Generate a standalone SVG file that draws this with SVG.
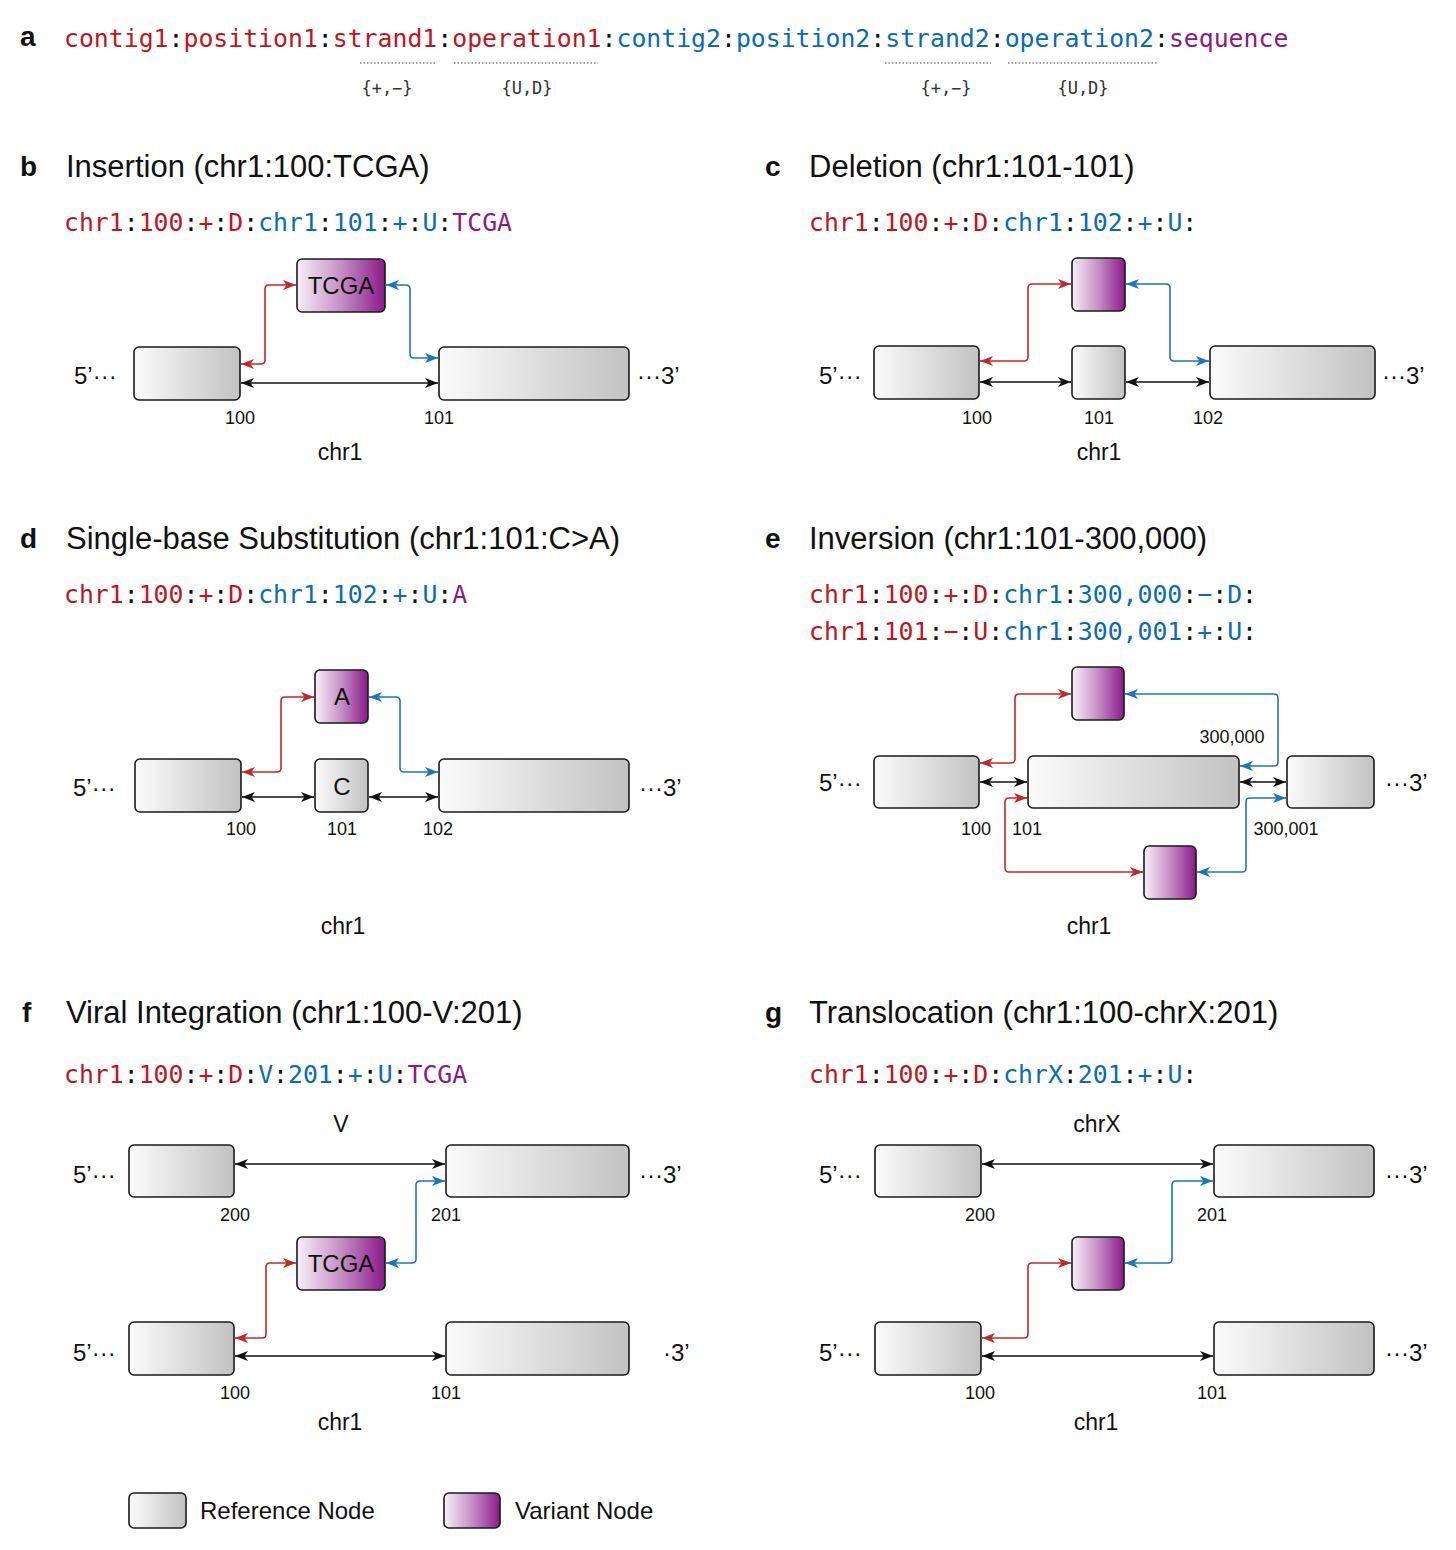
<svg xmlns="http://www.w3.org/2000/svg" width="1456" height="1550" viewBox="0 0 1456 1550">
<defs>
<linearGradient id="refGrad" x1="0" y1="0" x2="1" y2="0">
<stop offset="0" stop-color="#fbfbfb"/><stop offset="1" stop-color="#c2c2c2"/>
</linearGradient>
<linearGradient id="varGrad" x1="0" y1="0" x2="1" y2="0">
<stop offset="0" stop-color="#f8f0f8"/><stop offset="0.5" stop-color="#c58ec5"/><stop offset="1" stop-color="#8a1a8a"/>
</linearGradient>
<marker id="ak" viewBox="0 0 13 10" markerWidth="13" markerHeight="10" refX="13" refY="5" markerUnits="userSpaceOnUse" orient="auto-start-reverse"><path d="M0,0 L13,5 L0,10 L3.5,5 z" fill="#111"/></marker>
<marker id="ar" viewBox="0 0 13 10" markerWidth="13" markerHeight="10" refX="13" refY="5" markerUnits="userSpaceOnUse" orient="auto-start-reverse"><path d="M0,0 L13,5 L0,10 L3.5,5 z" fill="#c1272d"/></marker>
<marker id="ab" viewBox="0 0 13 10" markerWidth="13" markerHeight="10" refX="13" refY="5" markerUnits="userSpaceOnUse" orient="auto-start-reverse"><path d="M0,0 L13,5 L0,10 L3.5,5 z" fill="#1b75bc"/></marker>
</defs>
<style>
.ref{fill:url(#refGrad);stroke:#1a1a1a;stroke-width:1.6}
.var{fill:url(#varGrad);stroke:#1a1a1a;stroke-width:1.6}
.lbl{font-family:"Liberation Sans",Arial,sans-serif;font-weight:bold;font-size:28px;fill:#111}
.head{font-family:"Liberation Sans",Arial,sans-serif;font-size:31px;fill:#111}
.code{font-family:"DejaVu Sans Mono","Liberation Mono",monospace;font-size:24.8px;fill:#111}
.small{font-family:"DejaVu Sans Mono","Liberation Mono",monospace;font-size:17px;fill:#333}
.r{fill:#c1141e}.b{fill:#0a6bb5}.p{fill:#8a1a87}
.nodeTxt{font-family:"Liberation Sans",Arial,sans-serif;font-size:24px;fill:#111;text-anchor:middle}
.end{font-family:"Liberation Sans",Arial,sans-serif;font-size:24px;fill:#111}
.pos{font-family:"Liberation Sans",Arial,sans-serif;font-size:18px;fill:#111;text-anchor:middle}
.chr{font-family:"Liberation Sans",Arial,sans-serif;font-size:23px;fill:#111;text-anchor:middle}
.ck{fill:none;stroke:#111;stroke-width:1.6;marker-start:url(#ak);marker-end:url(#ak)}
.cr{fill:none;stroke:#c1272d;stroke-width:1.6;marker-start:url(#ar);marker-end:url(#ar)}
.cb{fill:none;stroke:#1b75bc;stroke-width:1.6;marker-start:url(#ab);marker-end:url(#ab)}
.dot{stroke:#444;stroke-width:1.2;stroke-dasharray:1.5 2}
</style>
<rect width="1456" height="1550" fill="#fff"/>

<!-- Panel a -->
<g id="panel-a">
<text class="lbl" x="20" y="46">a</text>
<text class="code" x="64" y="47"><tspan class="r">contig1</tspan>:<tspan class="r">position1</tspan>:<tspan class="r">strand1</tspan>:<tspan class="r">operation1</tspan>:<tspan class="b">contig2</tspan>:<tspan class="b">position2</tspan>:<tspan class="b">strand2</tspan>:<tspan class="b">operation2</tspan>:<tspan class="p">sequence</tspan></text>
<line class="dot" x1="360" y1="63" x2="437" y2="63"/>
<line class="dot" x1="454" y1="63" x2="598" y2="63"/>
<line class="dot" x1="885" y1="63" x2="991" y2="63"/>
<line class="dot" x1="1008" y1="63" x2="1157" y2="63"/>
<text class="small" x="387" y="94" text-anchor="middle">{+,−}</text>
<text class="small" x="527" y="94" text-anchor="middle">{U,D}</text>
<text class="small" x="946" y="94" text-anchor="middle">{+,−}</text>
<text class="small" x="1083" y="94" text-anchor="middle">{U,D}</text>
</g>

<!-- Headings and codes -->
<g id="titles">
<text class="lbl" x="20" y="176">b</text>
<text class="head" x="66" y="177">Insertion (chr1:100:TCGA)</text>
<text class="code" x="64" y="231"><tspan class="r">chr1</tspan>:<tspan class="r">100</tspan>:<tspan class="r">+</tspan>:<tspan class="r">D</tspan>:<tspan class="b">chr1</tspan>:<tspan class="b">101</tspan>:<tspan class="b">+</tspan>:<tspan class="b">U</tspan>:<tspan class="p">TCGA</tspan></text>

<text class="lbl" x="765" y="176">c</text>
<text class="head" x="809" y="177">Deletion (chr1:101-101)</text>
<text class="code" x="809" y="231"><tspan class="r">chr1</tspan>:<tspan class="r">100</tspan>:<tspan class="r">+</tspan>:<tspan class="r">D</tspan>:<tspan class="b">chr1</tspan>:<tspan class="b">102</tspan>:<tspan class="b">+</tspan>:<tspan class="b">U</tspan>:</text>

<text class="lbl" x="20" y="548">d</text>
<text class="head" x="66" y="549">Single-base Substitution (chr1:101:C&gt;A)</text>
<text class="code" x="64" y="603"><tspan class="r">chr1</tspan>:<tspan class="r">100</tspan>:<tspan class="r">+</tspan>:<tspan class="r">D</tspan>:<tspan class="b">chr1</tspan>:<tspan class="b">102</tspan>:<tspan class="b">+</tspan>:<tspan class="b">U</tspan>:<tspan class="p">A</tspan></text>

<text class="lbl" x="765" y="548">e</text>
<text class="head" x="809" y="549">Inversion (chr1:101-300,000)</text>
<text class="code" x="809" y="603"><tspan class="r">chr1</tspan>:<tspan class="r">100</tspan>:<tspan class="r">+</tspan>:<tspan class="r">D</tspan>:<tspan class="b">chr1</tspan>:<tspan class="b">300,000</tspan>:<tspan class="b">−</tspan>:<tspan class="b">D</tspan>:</text>
<text class="code" x="809" y="640"><tspan class="r">chr1</tspan>:<tspan class="r">101</tspan>:<tspan class="r">−</tspan>:<tspan class="r">U</tspan>:<tspan class="b">chr1</tspan>:<tspan class="b">300,001</tspan>:<tspan class="b">+</tspan>:<tspan class="b">U</tspan>:</text>

<text class="lbl" x="22" y="1022">f</text>
<text class="head" x="66" y="1023">Viral Integration (chr1:100-V:201)</text>
<text class="code" x="64" y="1083"><tspan class="r">chr1</tspan>:<tspan class="r">100</tspan>:<tspan class="r">+</tspan>:<tspan class="r">D</tspan>:<tspan class="b">V</tspan>:<tspan class="b">201</tspan>:<tspan class="b">+</tspan>:<tspan class="b">U</tspan>:<tspan class="p">TCGA</tspan></text>

<text class="lbl" x="765" y="1022">g</text>
<text class="head" x="809" y="1023">Translocation (chr1:100-chrX:201)</text>
<text class="code" x="809" y="1083"><tspan class="r">chr1</tspan>:<tspan class="r">100</tspan>:<tspan class="r">+</tspan>:<tspan class="r">D</tspan>:<tspan class="b">chrX</tspan>:<tspan class="b">201</tspan>:<tspan class="b">+</tspan>:<tspan class="b">U</tspan>:</text>
</g>

<!-- Connectors -->
<g id="connectors">
<!-- b -->
<path class="ck" d="M241,383 H438"/>
<path class="cr" d="M241,364 H261 Q265,364 265,360 V289 Q265,285 269,285 H296"/>
<path class="cb" d="M386,285 H406 Q410,285 410,289 V354 Q410,358 414,358 H438"/>
<!-- c -->
<path class="ck" d="M980,382 H1071"/>
<path class="ck" d="M1126,382 H1209"/>
<path class="cr" d="M980,361 H1024 Q1028,361 1028,357 V288 Q1028,284 1032,284 H1071"/>
<path class="cb" d="M1126,284 H1166 Q1170,284 1170,288 V357 Q1170,361 1174,361 H1209"/>
<!-- d -->
<path class="ck" d="M242,797 H314"/>
<path class="ck" d="M369,797 H438"/>
<path class="cr" d="M242,772 H277 Q281,772 281,768 V701 Q281,697 285,697 H314"/>
<path class="cb" d="M369,697 H396 Q400,697 400,701 V768 Q400,772 404,772 H438"/>
<!-- e -->
<path class="ck" d="M980,782 H1027"/>
<path class="ck" d="M1240,782 H1286"/>
<path class="cr" d="M980,763 H1011 Q1015,763 1015,759 V698 Q1015,694 1019,694 H1071"/>
<path class="cb" d="M1125,694 H1274 Q1278,694 1278,698 V762 Q1278,766 1274,766 H1240"/>
<path class="cr" d="M1027,798 H1009 Q1005,798 1005,802 V868 Q1005,872 1009,872 H1143"/>
<path class="cb" d="M1197,872 H1242 Q1246,872 1246,868 V802 Q1246,798 1250,798 H1286"/>
<!-- f -->
<path class="ck" d="M235,1164 H445"/>
<path class="ck" d="M235,1356 H445"/>
<path class="cb" d="M386,1263 H412 Q416,1263 416,1259 V1185 Q416,1181 420,1181 H445"/>
<path class="cr" d="M235,1338 H262 Q266,1338 266,1334 V1267 Q266,1263 270,1263 H296"/>
<!-- g -->
<path class="ck" d="M982,1164 H1213"/>
<path class="ck" d="M982,1356 H1213"/>
<path class="cb" d="M1125,1263 H1168 Q1172,1263 1172,1259 V1185 Q1172,1181 1176,1181 H1213"/>
<path class="cr" d="M982,1338 H1024 Q1028,1338 1028,1334 V1267 Q1028,1263 1032,1263 H1071"/>
</g>

<!-- Panel b nodes -->
<g id="b-ref-100"><rect class="ref" x="134" y="347" width="106" height="53" rx="5"/></g>
<g id="b-ref-101"><rect class="ref" x="439" y="347" width="190" height="53" rx="5"/></g>
<g id="b-var-TCGA"><rect class="var" x="297" y="259" width="88" height="53" rx="5"/><text class="nodeTxt" x="341" y="294">TCGA</text></g>
<g id="b-labels">
<text class="end" x="74" y="384">5’···</text><text class="end" x="637" y="384">···3’</text>
<text class="pos" x="240" y="424">100</text><text class="pos" x="439" y="424">101</text>
<text class="chr" x="340" y="460">chr1</text>
</g>

<!-- Panel c nodes -->
<g id="c-ref-100"><rect class="ref" x="874" y="346" width="105" height="53" rx="5"/></g>
<g id="c-ref-101"><rect class="ref" x="1072" y="346" width="53" height="53" rx="5"/></g>
<g id="c-ref-102"><rect class="ref" x="1210" y="346" width="165" height="53" rx="5"/></g>
<g id="c-var"><rect class="var" x="1072" y="258" width="53" height="53" rx="5"/></g>
<g id="c-labels">
<text class="end" x="819" y="384">5’···</text><text class="end" x="1382" y="384">···3’</text>
<text class="pos" x="977" y="424">100</text><text class="pos" x="1099" y="424">101</text><text class="pos" x="1208" y="424">102</text>
<text class="chr" x="1099" y="460">chr1</text>
</g>

<!-- Panel d nodes -->
<g id="d-ref-100"><rect class="ref" x="135" y="759" width="106" height="53" rx="5"/></g>
<g id="d-ref-C"><rect class="ref" x="315" y="759" width="53" height="53" rx="5"/><text class="nodeTxt" x="342" y="795">C</text></g>
<g id="d-ref-102"><rect class="ref" x="439" y="759" width="190" height="53" rx="5"/></g>
<g id="d-var-A"><rect class="var" x="315" y="670" width="53" height="53" rx="5"/><text class="nodeTxt" x="342" y="705">A</text></g>
<g id="d-labels">
<text class="end" x="73" y="796">5’···</text><text class="end" x="639" y="796">···3’</text>
<text class="pos" x="241" y="835">100</text><text class="pos" x="342" y="835">101</text><text class="pos" x="438" y="835">102</text>
<text class="chr" x="343" y="934">chr1</text>
</g>

<!-- Panel e nodes -->
<g id="e-ref-100"><rect class="ref" x="874" y="756" width="105" height="52" rx="5"/></g>
<g id="e-ref-mid"><rect class="ref" x="1028" y="756" width="211" height="52" rx="5"/></g>
<g id="e-ref-right"><rect class="ref" x="1287" y="756" width="87" height="52" rx="5"/></g>
<g id="e-var-top"><rect class="var" x="1072" y="667" width="52" height="53" rx="5"/></g>
<g id="e-var-bottom"><rect class="var" x="1144" y="846" width="52" height="53" rx="5"/></g>
<g id="e-labels">
<text class="end" x="819" y="791">5’···</text><text class="end" x="1385" y="791">···3’</text>
<text class="pos" x="1232" y="743">300,000</text>
<text class="pos" x="976" y="835">100</text><text class="pos" x="1027" y="835">101</text><text class="pos" x="1286" y="835">300,001</text>
<text class="chr" x="1089" y="934">chr1</text>
</g>

<!-- Panel f nodes -->
<g id="f-ref-200"><rect class="ref" x="129" y="1145" width="105" height="52" rx="5"/></g>
<g id="f-ref-201"><rect class="ref" x="446" y="1145" width="183" height="52" rx="5"/></g>
<g id="f-var-TCGA"><rect class="var" x="297" y="1237" width="88" height="53" rx="5"/><text class="nodeTxt" x="341" y="1272">TCGA</text></g>
<g id="f-ref-100"><rect class="ref" x="129" y="1322" width="105" height="53" rx="5"/></g>
<g id="f-ref-101"><rect class="ref" x="446" y="1322" width="183" height="53" rx="5"/></g>
<g id="f-labels">
<text class="chr" x="341" y="1132">V</text>
<text class="end" x="73" y="1183">5’···</text><text class="end" x="639" y="1183">···3’</text>
<text class="end" x="73" y="1361">5’···</text><text class="end" x="663" y="1361">·3’</text>
<text class="pos" x="235" y="1221">200</text><text class="pos" x="446" y="1221">201</text>
<text class="pos" x="235" y="1399">100</text><text class="pos" x="446" y="1399">101</text>
<text class="chr" x="340" y="1430">chr1</text>
</g>

<!-- Panel g nodes -->
<g id="g-ref-200"><rect class="ref" x="875" y="1145" width="106" height="52" rx="5"/></g>
<g id="g-ref-201"><rect class="ref" x="1214" y="1145" width="160" height="52" rx="5"/></g>
<g id="g-var"><rect class="var" x="1072" y="1237" width="52" height="53" rx="5"/></g>
<g id="g-ref-100"><rect class="ref" x="875" y="1322" width="106" height="53" rx="5"/></g>
<g id="g-ref-101"><rect class="ref" x="1214" y="1322" width="160" height="53" rx="5"/></g>
<g id="g-labels">
<text class="chr" x="1097" y="1132">chrX</text>
<text class="end" x="819" y="1183">5’···</text><text class="end" x="1385" y="1183">···3’</text>
<text class="end" x="819" y="1361">5’···</text><text class="end" x="1385" y="1361">···3’</text>
<text class="pos" x="980" y="1221">200</text><text class="pos" x="1212" y="1221">201</text>
<text class="pos" x="980" y="1399">100</text><text class="pos" x="1212" y="1399">101</text>
<text class="chr" x="1096" y="1430">chr1</text>
</g>

<!-- Legend -->
<g id="legend-ref"><rect class="ref" x="129" y="1493" width="57" height="35" rx="5"/><text class="end" x="200" y="1519">Reference Node</text></g>
<g id="legend-var"><rect class="var" x="444" y="1493" width="56" height="35" rx="5"/><text class="end" x="515" y="1519">Variant Node</text></g>
</svg>
